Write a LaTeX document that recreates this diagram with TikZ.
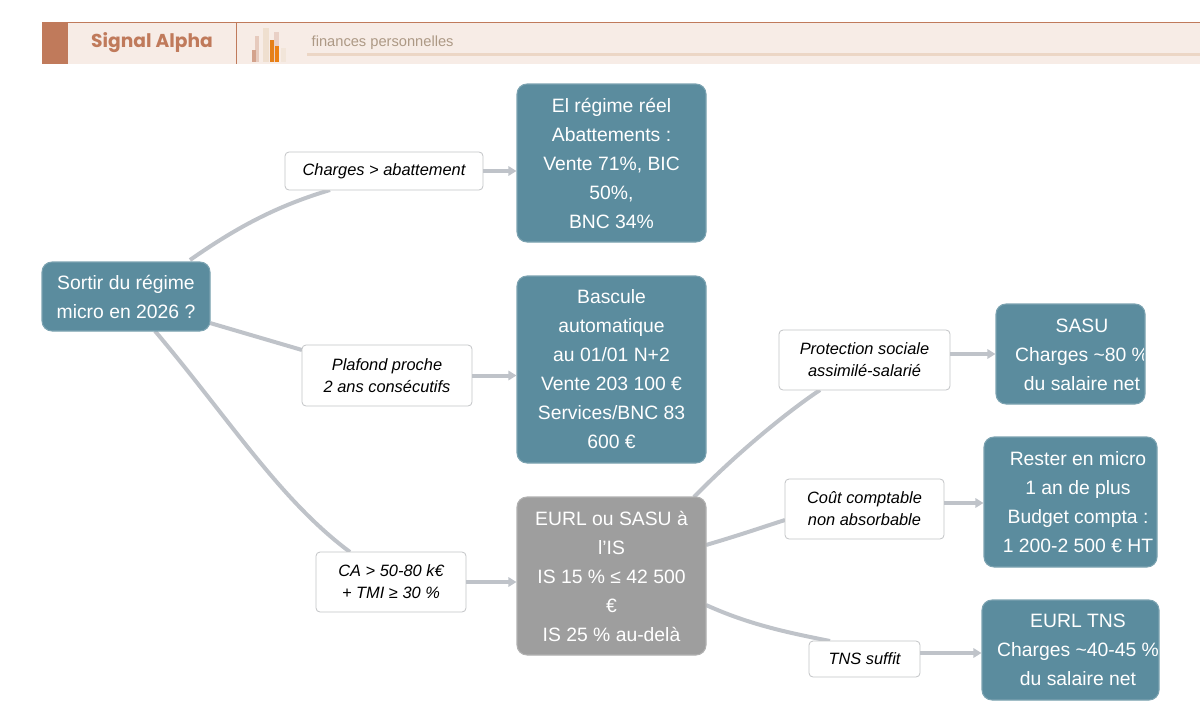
\documentclass[tikz,border=0pt]{standalone}
\usepackage{fontspec}
\setmainfont{Liberation Sans}
\newfontfamily\popp{Poppins}
\usetikzlibrary{arrows.meta}
\definecolor{teal}{HTML}{5B8C9E}
\definecolor{grayb}{HTML}{9E9E9E}
\definecolor{edge}{HTML}{BFC3C9}
\definecolor{brick}{HTML}{C07A5B}
\definecolor{cream}{HTML}{F7ECE6}
\begin{document}
\begin{tikzpicture}[x=0.75pt,y=-0.75pt,
 box/.style={rectangle,rounded corners=7.5pt,fill=teal,draw=teal!80!white,line width=0.8pt,text=white,align=center,font=\fontsize{14.5}{21.75}\selectfont,inner sep=0pt},
 gbox/.style={box,fill=grayb,draw=grayb!80!white},
 btxt/.style={text=white,align=center,font=\fontsize{14.5}{21.75}\selectfont,inner sep=0pt},
 lab/.style={rectangle,rounded corners=3pt,fill=white,draw=edge!80!black!60!white,line width=0.6pt,align=center,font=\fontsize{12.3}{16.5}\selectfont\itshape,inner sep=0pt},
 con/.style={draw=edge,line width=3pt},
 arr/.style={con,-{Triangle[length=6pt,width=7pt]}}]
\useasboundingbox (0,0) rectangle (1200,721);
% header
\fill[cream] (68,22) rectangle (1200,64);
\draw[brick,line width=0.6pt] (42,22) -- (1200,22);
\fill[brick] (42,22) rectangle (68,64);
\draw[brick,line width=0.6pt] (236,22) -- (236,64);
\node[font=\popp\bfseries\fontsize{14}{16}\selectfont,text=brick] (title) at (152,43) {Signal Alpha};
\fill[brick!40] (255,36) rectangle (259,62);
\fill[brick!70] (252,50) rectangle (256,62);
\fill[brown!25] (263,28) rectangle (269,62);
\fill[orange!60!brown] (270,40) rectangle (274,62);
\fill[brick!35] (274,32) rectangle (279,62);
\fill[orange!70!brown] (275,46) rectangle (279,62);
\fill[brown!20] (281,48) rectangle (286,62);
\node[anchor=west,text=brown!40!gray!80,font=\fontsize{11}{13}\selectfont] (sub) at (307,43) {finances personnelles};
\fill[brown!20!cream] (307,53) rectangle (1200,56);
% connectors first
\coordinate (s1) at (190,260);
\coordinate (s2) at (210,323);
\coordinate (s3) at (155,331);
\coordinate (t1) at (330,190);
\coordinate (t2) at (302,350);
\coordinate (t3) at (350,552);
\coordinate (b3a) at (694,497);
\coordinate (b3b) at (706,545);
\coordinate (b3c) at (706,605);
\coordinate (t4) at (820,390);
\coordinate (t5) at (785,520);
\coordinate (t6) at (830,641);
\draw[con] (s1) .. controls (240,225) and (280,205) .. (t1);
\draw[con] (s2) -- (t2);
\draw[con] (s3) .. controls (230,420) and (280,500) .. (t3);
\draw[con] (b3a) .. controls (740,450) and (790,410) .. (t4);
\draw[con] (b3b) .. controls (740,535) and (760,528) .. (t5);
\draw[con] (b3c) .. controls (750,625) and (790,633) .. (t6);
% nodes
\node[box,minimum width=126pt,minimum height=51.75pt] (start) at (126,296.5) {Sortir du régime\\micro en 2026 ?};
\node[box,minimum width=141.75pt,minimum height=118.5pt] (b1) at (611.5,163) {El régime réel\\Abattements :\\Vente 71\%, BIC\\50\%,\\BNC 34\%};
\node[box,minimum width=141.75pt,minimum height=140.25pt] (b2) at (611.5,369.5) {Bascule\\automatique\\au 01/01 N+2\\Vente 203 100 €\\Services/BNC 83\\600 €};
\node[gbox,minimum width=141.75pt,minimum height=118.5pt] (b3) at (611.5,576) {EURL ou SASU à\\l'IS\\IS 15 \% ≤ 42 500\\€\\IS 25 \% au-delà};
\node[box,minimum width=111.75pt,minimum height=75pt] (sasu) at (1070.5,354) {};
\node[box,minimum width=129.75pt,minimum height=97.5pt] (micro) at (1070.5,502) {};
\node[box,minimum width=132.75pt,minimum height=75pt] (eurl) at (1070.5,650) {};
\begin{scope}
\clip (998,306) rectangle (1143,402);
\node[btxt] (sasut) at (1082,354.5) {SASU\\Charges \textasciitilde80 \%\\du salaire net};
\end{scope}
\begin{scope}
\clip (986,439) rectangle (1155,565);
\node[btxt] (microt) at (1078,502.5) {Rester en micro\\1 an de plus\\Budget compta :\\1 200-2 500 € HT};
\end{scope}
\begin{scope}
\clip (984,602) rectangle (1157,698);
\node[btxt] (eurlt) at (1078,650) {EURL TNS\\Charges \textasciitilde40-45 \%\\du salaire net};
\end{scope}
\node[lab,minimum width=148.5pt,minimum height=28.5pt] (l1) at (384,171) {Charges > abattement};
\node[lab,minimum width=127.5pt,minimum height=45.75pt] (l2) at (387,375.5) {Plafond proche\\2 ans consécutifs};
\node[lab,minimum width=112.5pt,minimum height=45pt] (l3) at (391,582) {CA > 50-80 k€\\+ TMI ≥ 30 \%};
\node[lab,minimum width=128.25pt,minimum height=45pt] (l4) at (864.5,360) {Protection sociale\\assimilé-salarié};
\node[lab,minimum width=119.25pt,minimum height=45pt] (l5) at (864.5,509) {Coût comptable\\non absorbable};
\node[lab,minimum width=83.25pt,minimum height=27pt] (l6) at (864.5,659) {TNS suffit};
\coordinate (e4) at ([yshift=4.5pt]l4.east);
\coordinate (e5) at ([yshift=4.5pt]l5.east);
\coordinate (e6) at ([yshift=4.5pt]l6.east);
\draw[arr] (l1.east) -- (b1.west |- l1.east);
\draw[arr] (l2.east) -- (b2.west |- l2.east);
\draw[arr] (l3.east) -- (b3.west |- l3.east);
\draw[arr] (e4) -- (sasu.west |- e4);
\draw[arr] (e5) -- (micro.west |- e5);
\draw[arr] (e6) -- (eurl.west |- e6);
\end{tikzpicture}
\end{document}
